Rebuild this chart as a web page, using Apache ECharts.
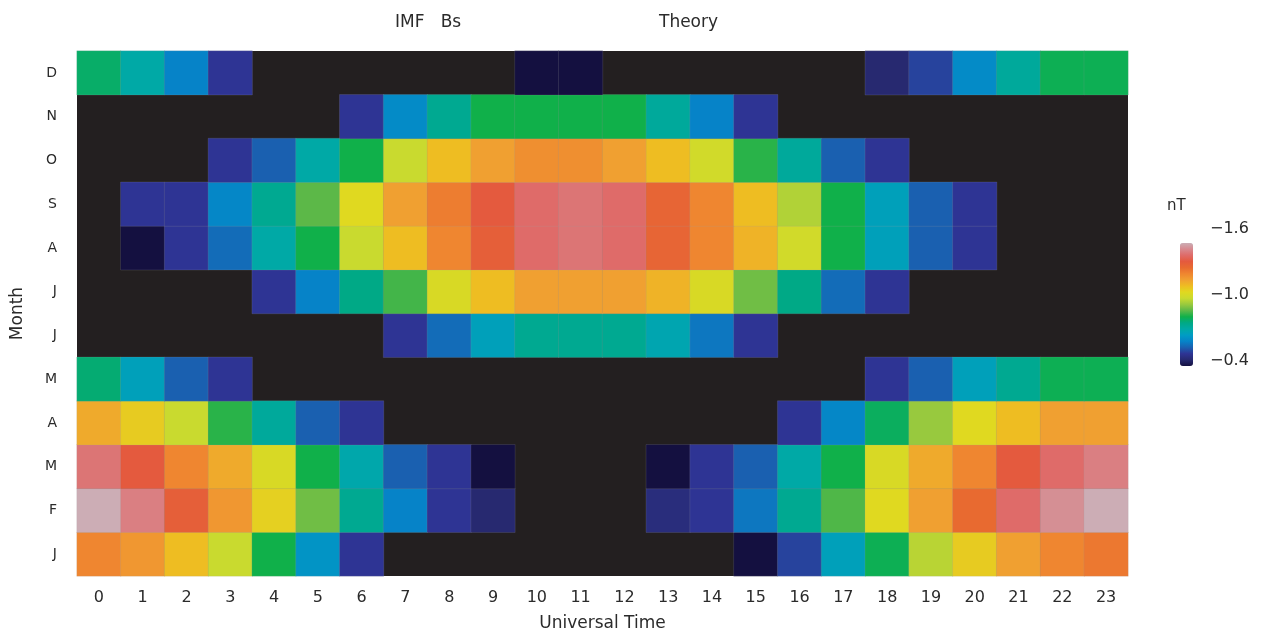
<!DOCTYPE html>
<html>
<head>
<meta charset="utf-8">
<script src="https://cdn.jsdelivr.net/npm/echarts@6/dist/echarts.min.js"></script>
<style>
  html, body { margin: 0; padding: 0; background: #fff; }
  #main { width: 1265px; height: 634px; }
</style>
</head>
<body>
<div id="main"></div>
<script>
// hours 0..23 along x, months from bottom (Jan) to top (Dec)
var hours = ['0','1','2','3','4','5','6','7','8','9','10','11','12','13','14','15','16','17','18','19','20','21','22','23'];
var months = ['J','F','M','A','M','J','J','A','S','O','N','D'];

// IMF Bs (nT), null = no data (black)
var jan = [-1.30,-1.26,-1.18,-1.06,-0.88,-0.68,-0.52,null,null,null,null,null,null,null,null,-0.40,-0.54,-0.72,-0.87,-1.04,-1.15,-1.24,-1.30,-1.33];
var feb = [-1.60,-1.52,-1.40,-1.26,-1.14,-0.96,-0.80,-0.64,-0.52,-0.46,null,null,null,-0.48,-0.52,-0.62,-0.80,-0.93,-1.12,-1.24,-1.36,-1.48,-1.55,-1.60];
var mar = [-1.50,-1.42,-1.30,-1.22,-1.10,-0.88,-0.75,-0.58,-0.52,-0.40,null,null,null,-0.40,-0.52,-0.58,-0.76,-0.88,-1.10,-1.22,-1.30,-1.42,-1.48,-1.52];
var apr = [-1.22,-1.15,-1.06,-0.90,-0.78,-0.58,-0.52,null,null,null,null,null,null,null,null,null,-0.52,-0.65,-0.86,-1.00,-1.12,-1.18,-1.24,-1.24];
var may = [-0.84,-0.72,-0.58,-0.52,null,null,null,null,null,null,null,null,null,null,null,null,null,null,-0.52,-0.58,-0.72,-0.80,-0.87,-0.87];
var jun = [null,null,null,null,null,null,null,-0.52,-0.60,-0.72,-0.80,-0.80,-0.80,-0.74,-0.62,-0.52,null,null,null,null,null,null,null,null];
var jul = [null,null,null,null,-0.52,-0.64,-0.82,-0.92,-1.10,-1.18,-1.24,-1.24,-1.24,-1.20,-1.10,-0.96,-0.82,-0.60,-0.52,null,null,null,null,null];
var aug = [null,-0.40,-0.52,-0.60,-0.76,-0.88,-1.06,-1.18,-1.30,-1.40,-1.48,-1.50,-1.48,-1.38,-1.30,-1.20,-1.08,-0.88,-0.72,-0.58,-0.52,null,null,null];
var sep = [null,-0.52,-0.52,-0.65,-0.80,-0.94,-1.12,-1.24,-1.32,-1.42,-1.48,-1.50,-1.48,-1.38,-1.30,-1.18,-1.03,-0.88,-0.72,-0.58,-0.52,null,null,null];
var oct = [null,null,null,-0.52,-0.58,-0.76,-0.88,-1.06,-1.18,-1.24,-1.28,-1.28,-1.24,-1.18,-1.08,-0.90,-0.78,-0.58,-0.52,null,null,null,null,null];
var nov = [null,null,null,null,null,null,-0.52,-0.66,-0.80,-0.88,-0.88,-0.88,-0.88,-0.78,-0.64,-0.52,null,null,null,null,null,null,null,null];
var dec = [-0.85,-0.76,-0.64,-0.52,null,null,null,null,null,null,-0.40,-0.40,null,null,null,null,null,null,-0.46,-0.54,-0.66,-0.78,-0.87,-0.87];

var scaleTicks = ['\u22121.6', '\u22121.0', '\u22120.4'];

var rows = [jan, feb, mar, apr, may, jun, jul, aug, sep, oct, nov, dec];
var data = [];
rows.forEach(function (row, y) {
    row.forEach(function (v, x) {
        if (v !== null) data.push([x, y, v]);
    });
});

var font = 'DejaVu Sans';
var txt = '#2b2b2b';

var chart = echarts.init(document.getElementById('main'));
chart.setOption({
    animation: false,
    title: [
        { text: 'IMF   Bs', left: 390, top: 9, textStyle: { fontFamily: font, fontSize: 17, fontWeight: 'normal', color: txt } },
        { text: 'Theory', left: 654, top: 9, textStyle: { fontFamily: font, fontSize: 17, fontWeight: 'normal', color: txt } }
    ],
    grid: {
        left: 77, right: 137, top: 51, bottom: 58,
        outerBoundsMode: 'none',
        containLabel: false,
        show: true, backgroundColor: '#231f20', borderWidth: 0
    },
    xAxis: {
        type: 'category',
        data: hours,
        name: 'Universal Time',
        nameLocation: 'middle',
        nameGap: 39,
        nameTextStyle: { fontFamily: font, fontSize: 17, color: txt },
        axisLine: { show: false },
        axisTick: { show: false },
        axisLabel: { margin: 14, fontFamily: font, fontSize: 16, color: txt },
        splitArea: { show: false }
    },
    yAxis: {
        type: 'category',
        data: months,
        name: 'Month',
        nameLocation: 'middle',
        nameRotate: 90,
        nameGap: 51,
        nameTextStyle: { fontFamily: font, fontSize: 17, color: txt },
        axisLine: { show: false },
        axisTick: { show: false },
        axisLabel: { margin: 20, fontFamily: font, fontSize: 14, color: txt }
    },
    visualMap: {
        type: 'continuous',
        min: -1.6,
        max: -0.4,
        inverse: true,
        calculable: false,
        padding: 0,
        left: 1180,
        top: 243,
        itemWidth: 13,
        itemHeight: 123,
        text: null,
        inRange: {
            color: ['#ccadb5','#d7898e','#df6b69','#e45a3e','#e86a30','#ef8630','#f0a031',
                    '#eebd22','#e0d920','#c9da2f','#98c93e','#5cb848','#10b04a','#00a986',
                    '#00a9a6','#009cc4','#0683c8','#1a60b0','#2e3494','#272970','#141040']
        }
    },
    graphic: [
        { type: 'text', x: 1167, y: 206, style: { text: 'nT', fill: txt, font: '15px "DejaVu Sans"', verticalAlign: 'middle' } },
        { type: 'text', x: 1210, y: 229, style: { text: scaleTicks[0], fill: txt, font: '16px "DejaVu Sans"', verticalAlign: 'middle' } },
        { type: 'text', x: 1210, y: 295, style: { text: scaleTicks[1], fill: txt, font: '16px "DejaVu Sans"', verticalAlign: 'middle' } },
        { type: 'text', x: 1210, y: 361, style: { text: scaleTicks[2], fill: txt, font: '16px "DejaVu Sans"', verticalAlign: 'middle' } }
    ],
    series: [{
        type: 'heatmap',
        data: data,
        itemStyle: { borderColor: 'rgba(160,160,160,0.35)', borderWidth: 0.5 },
        emphasis: { disabled: true }
    }]
});
</script>
</body>
</html>
